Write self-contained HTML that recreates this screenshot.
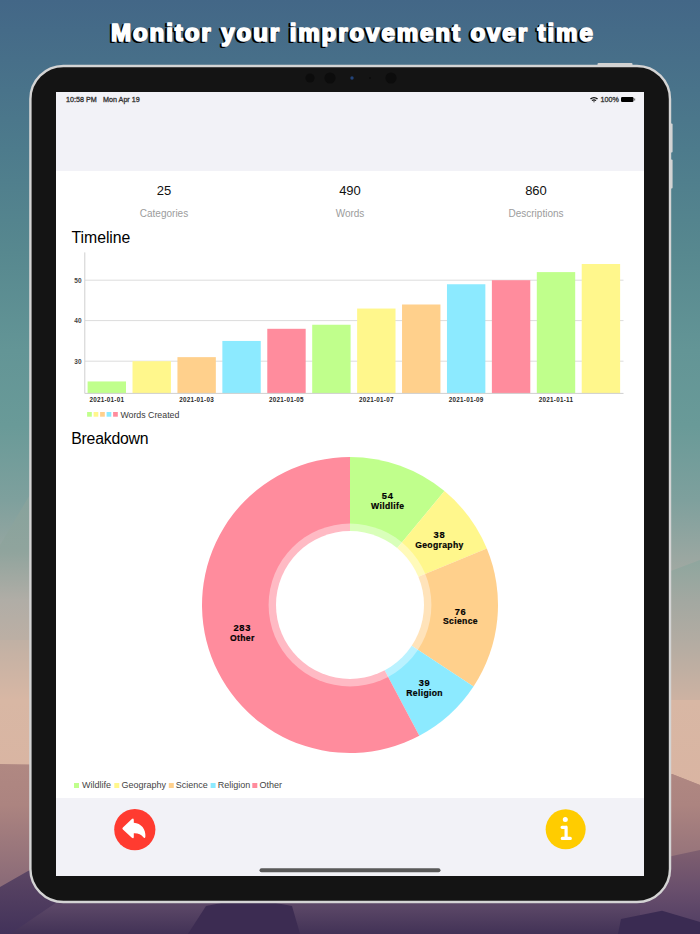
<!DOCTYPE html>
<html><head><meta charset="utf-8">
<style>
html,body{margin:0;padding:0;width:700px;height:934px;overflow:hidden;background:#4a6e8a;}
svg{position:absolute;left:0;top:0;display:block;}
text{font-family:"Liberation Sans",sans-serif;}
</style></head>
<body>
<svg width="700" height="934" viewBox="0 0 700 934">
<defs>
<linearGradient id="bg" x1="0" y1="0" x2="0" y2="934" gradientUnits="userSpaceOnUse">
<stop offset="0" stop-color="#436787"/>
<stop offset="0.16" stop-color="#4d7b8c"/>
<stop offset="0.27" stop-color="#57888f"/>
<stop offset="0.375" stop-color="#639596"/>
<stop offset="0.455" stop-color="#699a98"/>
<stop offset="0.535" stop-color="#7ea09d"/>
<stop offset="0.642" stop-color="#aeaca4"/>
<stop offset="0.70" stop-color="#c6b2a4"/>
<stop offset="0.75" stop-color="#d8b7a4"/>
<stop offset="1" stop-color="#dcb09e"/>
</linearGradient>
<linearGradient id="bg2" x1="0" y1="764" x2="0" y2="880" gradientUnits="userSpaceOnUse">
<stop offset="0" stop-color="#b08882"/>
<stop offset="0.35" stop-color="#ac8480"/>
<stop offset="1" stop-color="#8c6c78"/>
</linearGradient>
<linearGradient id="bg3" x1="0" y1="870" x2="0" y2="934" gradientUnits="userSpaceOnUse">
<stop offset="0" stop-color="#5c4664"/>
<stop offset="1" stop-color="#42325a"/>
</linearGradient>
<linearGradient id="bg4" x1="0" y1="848" x2="0" y2="934" gradientUnits="userSpaceOnUse">
<stop offset="0" stop-color="#806070"/>
<stop offset="0.5" stop-color="#684e6c"/>
<stop offset="1" stop-color="#4e3c62"/>
</linearGradient>
<linearGradient id="bgL" x1="0" y1="480" x2="0" y2="640" gradientUnits="userSpaceOnUse">
<stop offset="0" stop-color="#84a29c"/>
<stop offset="0.45" stop-color="#90a49d"/>
<stop offset="0.75" stop-color="#b0ada6"/>
<stop offset="1" stop-color="#bcafa4"/>
</linearGradient>
<linearGradient id="bgR" x1="0" y1="560" x2="0" y2="700" gradientUnits="userSpaceOnUse">
<stop offset="0" stop-color="#8ea69e"/>
<stop offset="0.3" stop-color="#a3a8a1"/>
<stop offset="0.6" stop-color="#b4aca2"/>
<stop offset="1" stop-color="#cdb2a2"/>
</linearGradient>
<linearGradient id="bg5" x1="0" y1="896" x2="0" y2="934" gradientUnits="userSpaceOnUse">
<stop offset="0" stop-color="#5e4868"/>
<stop offset="0.3" stop-color="#5a4666"/>
<stop offset="1" stop-color="#423256"/>
</linearGradient>
</defs>
<!-- background -->
<rect x="0" y="0" width="700" height="934" fill="url(#bg)"/>
<polygon points="0,764 672,774 700,785 700,934 0,934" fill="url(#bg2)"/>
<polygon points="0,887 28,871 120,840 640,870 660,934 0,934" fill="url(#bg3)"/>
<polygon points="600,880 672,856 700,850 700,934 520,934" fill="url(#bg4)"/>
<polygon points="0,545 28,498 40,480 40,640 0,640" fill="url(#bgL)"/>
<polygon points="660,575 700,560 700,700 660,700" fill="url(#bgR)"/>
<polygon points="660,782 672,774 700,785 700,800 660,800" fill="url(#bg2)"/>
<polygon points="10,934 60,900 640,900 640,934" fill="url(#bg5)"/>
<polygon points="188,934 206,906 248,898 292,906 300,934" fill="#3c2c52"/>
<polygon points="618,934 621,919 662,910.7 700,922 700,934" fill="#3a2b52"/>

<!-- title -->
<text x="109.2" y="41.7" font-size="24" font-weight="bold" letter-spacing="1.95" fill="#000" stroke="#000" stroke-width="1.8" stroke-linejoin="round">Monitor your improvement over time</text>
<text x="111" y="41" font-size="24" font-weight="bold" letter-spacing="1.95" fill="#fff" stroke="#fff" stroke-width="1.7" stroke-linejoin="round">Monitor your improvement over time</text>

<!-- iPad frame -->
<rect x="597.5" y="63" width="35" height="4" rx="1" fill="#d2d2d2"/>
<rect x="669" y="123.5" width="3.6" height="29" rx="1" fill="#d2d2d2"/>
<rect x="669" y="159.5" width="3.6" height="29" rx="1" fill="#d2d2d2"/>
<rect x="30.4" y="66" width="639.6" height="836" rx="33" ry="33" fill="#141414" stroke="#d4d4d4" stroke-width="2.4"/>
<circle cx="310" cy="78" r="4.5" fill="#0c0c0c"/>
<circle cx="330" cy="78" r="5.5" fill="#0c0c0c"/>
<circle cx="352" cy="78" r="1.7" fill="#23447a"/>
<circle cx="370" cy="78" r="0.8" fill="#050505"/>
<circle cx="391" cy="78" r="5.5" fill="#0c0c0c"/>

<!-- screen -->
<rect x="56" y="92" width="588" height="784" fill="#ffffff"/>
<rect x="56" y="92" width="588" height="79" fill="#f2f2f7"/>
<rect x="56" y="798" width="588" height="78" fill="#f2f2f7"/>

<!-- status bar -->
<text x="66" y="101.8" font-size="7.2" fill="#333" stroke="#333" stroke-width="0.3">10:58 PM</text>
<text x="103" y="101.8" font-size="7.2" fill="#333" stroke="#333" stroke-width="0.3">Mon Apr 19</text>
<text x="600.5" y="101.8" font-size="7.2" fill="#333" stroke="#333" stroke-width="0.3">100%</text>
<rect x="621" y="97" width="12.5" height="5" rx="1.2" fill="#000"/>
<rect x="634" y="98.5" width="1.2" height="2" fill="#777"/>
<path d="M590,98.6 A6,6 0 0 1 598,98.6 L597,99.6 A4.6,4.6 0 0 0 591,99.6 Z M591.6,100.2 A3.6,3.6 0 0 1 596.4,100.2 L595.4,101.1 A2.2,2.2 0 0 0 592.6,101.1 Z M593.1,101.7 A1.4,1.4 0 0 1 594.9,101.7 L594,102.6 Z" fill="#111"/>

<!-- stats -->
<g font-size="13" fill="#111" text-anchor="middle">
<text x="164" y="194.8">25</text>
<text x="350" y="194.8">490</text>
<text x="536" y="194.8">860</text>
</g>
<g font-size="10" fill="#9c9c9c" text-anchor="middle">
<text x="164" y="216.7">Categories</text>
<text x="350" y="216.7">Words</text>
<text x="536" y="216.7">Descriptions</text>
</g>

<!-- Timeline -->
<text x="71.6" y="242.6" font-size="15.8" letter-spacing="-0.05" fill="#000">Timeline</text>
<g stroke="#dcdcdc" stroke-width="1">
<line x1="85" y1="280.2" x2="623.5" y2="280.2"/>
<line x1="85" y1="320.6" x2="623.5" y2="320.6"/>
<line x1="85" y1="361.2" x2="623.5" y2="361.2"/>
</g>
<g id="bars">
<rect x="87.60" y="381.45" width="38.4" height="11.95" fill="#C0FF8C"/>
<rect x="132.52" y="361.20" width="38.4" height="32.20" fill="#FFF78C"/>
<rect x="177.44" y="357.15" width="38.4" height="36.25" fill="#FFD08C"/>
<rect x="222.36" y="340.95" width="38.4" height="52.45" fill="#8CEAFF"/>
<rect x="267.28" y="328.80" width="38.4" height="64.60" fill="#FF8C9D"/>
<rect x="312.20" y="324.75" width="38.4" height="68.65" fill="#C0FF8C"/>
<rect x="357.12" y="308.55" width="38.4" height="84.85" fill="#FFF78C"/>
<rect x="402.04" y="304.50" width="38.4" height="88.90" fill="#FFD08C"/>
<rect x="446.96" y="284.25" width="38.4" height="109.15" fill="#8CEAFF"/>
<rect x="491.88" y="280.20" width="38.4" height="113.20" fill="#FF8C9D"/>
<rect x="536.80" y="272.10" width="38.4" height="121.30" fill="#C0FF8C"/>
<rect x="581.72" y="264.00" width="38.4" height="129.40" fill="#FFF78C"/>
<text x="106.80" y="401.5" font-size="6.3" font-weight="bold" letter-spacing="0.25" fill="#2a2a2a" text-anchor="middle">2021-01-01</text>
<text x="196.64" y="401.5" font-size="6.3" font-weight="bold" letter-spacing="0.25" fill="#2a2a2a" text-anchor="middle">2021-01-03</text>
<text x="286.48" y="401.5" font-size="6.3" font-weight="bold" letter-spacing="0.25" fill="#2a2a2a" text-anchor="middle">2021-01-05</text>
<text x="376.32" y="401.5" font-size="6.3" font-weight="bold" letter-spacing="0.25" fill="#2a2a2a" text-anchor="middle">2021-01-07</text>
<text x="466.16" y="401.5" font-size="6.3" font-weight="bold" letter-spacing="0.25" fill="#2a2a2a" text-anchor="middle">2021-01-09</text>
<text x="556.00" y="401.5" font-size="6.3" font-weight="bold" letter-spacing="0.25" fill="#2a2a2a" text-anchor="middle">2021-01-11</text>
<text x="81.5" y="282.5" font-size="6.5" font-weight="bold" fill="#444" text-anchor="end">50</text>
<text x="81.5" y="322.9" font-size="6.5" font-weight="bold" fill="#444" text-anchor="end">40</text>
<text x="81.5" y="363.5" font-size="6.5" font-weight="bold" fill="#444" text-anchor="end">30</text>
<rect x="87.1" y="412" width="4.7" height="4.7" fill="#C0FF8C"/>
<rect x="93.6" y="412" width="4.7" height="4.7" fill="#FFF78C"/>
<rect x="100.1" y="412" width="4.7" height="4.7" fill="#FFD08C"/>
<rect x="106.6" y="412" width="4.7" height="4.7" fill="#8CEAFF"/>
<rect x="113.1" y="412" width="4.7" height="4.7" fill="#FF8C9D"/>
<text x="120.4" y="417.9" font-size="8.8" fill="#3a3a3a">Words Created</text>
</g>
<line x1="84.8" y1="252.4" x2="84.8" y2="393.4" stroke="#cfcfcf" stroke-width="1"/>
<line x1="84.8" y1="393.4" x2="623.5" y2="393.4" stroke="#cfcfcf" stroke-width="1"/>

<!-- Breakdown -->
<text x="71.2" y="443.6" font-size="15.8" letter-spacing="-0.2" fill="#000">Breakdown</text>
<path d="M350,605 L350.00,457.00 A148,148 0 0 1 444.48,491.09 Z" fill="#C0FF8C"/>
<path d="M350,605 L444.48,491.09 A148,148 0 0 1 486.82,548.58 Z" fill="#FFF78C"/>
<path d="M350,605 L486.82,548.58 A148,148 0 0 1 473.52,686.53 Z" fill="#FFD08C"/>
<path d="M350,605 L473.52,686.53 A148,148 0 0 1 419.30,735.78 Z" fill="#8CEAFF"/>
<path d="M350,605 L419.30,735.78 A148,148 0 1 1 350.00,457.00 Z" fill="#FF8C9D"/>
<circle cx="350" cy="605" r="81.4" fill="#fff" fill-opacity="0.4"/>
<circle cx="350" cy="605" r="74" fill="#fff"/>
<g font-size="8.6" font-weight="bold" fill="#000" stroke="#000" stroke-width="0.2" letter-spacing="0.35" text-anchor="middle">
<text font-size="9.3" letter-spacing="0.7" x="387.7" y="499.2">54</text><text x="387.7" y="509.1">Wildlife</text>
<text font-size="9.3" letter-spacing="0.7" x="439.4" y="538">38</text><text x="439.4" y="548">Geography</text>
<text font-size="9.3" letter-spacing="0.7" x="460.5" y="614.5">76</text><text x="460.5" y="624.4">Science</text>
<text font-size="9.3" letter-spacing="0.7" x="424.6" y="686">39</text><text x="424.6" y="696">Religion</text>
<text font-size="9.3" letter-spacing="0.7" x="242.3" y="630.6">283</text><text x="242.3" y="640.5">Other</text>
</g>

<!-- legend -->
<g font-size="9" fill="#444">
<rect x="74" y="783" width="5" height="5" fill="#C0FF8C"/><text x="82" y="788.1">Wildlife</text>
<rect x="114.3" y="783" width="5" height="5" fill="#FFF78C"/><text x="121.5" y="788.1">Geography</text>
<rect x="168.8" y="783" width="5" height="5" fill="#FFD08C"/><text x="175.7" y="788.1">Science</text>
<rect x="210.6" y="783" width="5" height="5" fill="#8CEAFF"/><text x="217.8" y="788.1">Religion</text>
<rect x="252.3" y="783" width="5" height="5" fill="#FF8C9D"/><text x="259.5" y="788.1">Other</text>
</g>

<!-- toolbar buttons -->
<circle cx="134.8" cy="829.6" r="20.6" fill="#FF3B30"/>
<path d="M122.9,827.4 L131.6,819.3 Q133.8,817.4 133.8,820.3 L133.8,822.8 C141.2,823.2 146,829.4 145.4,836.6 Q145.2,839 143.6,837.4 C141,834.2 138,833 133.8,833.2 L133.8,836.7 Q133.8,839.5 131.6,837.6 L122.9,829.6 Q121.8,828.5 122.9,827.4 Z" fill="#fff"/>
<circle cx="565.65" cy="829.35" r="20" fill="#FFCC00"/>
<circle cx="565.3" cy="819.4" r="2.5" fill="#fff"/>
<path d="M566.1,827.2 L566.1,838.4 M562.1,827.3 L566.1,827.3 M562.3,838.4 L570.3,838.4" stroke="#fff" stroke-width="3.2" stroke-linecap="round" fill="none"/>

<!-- home indicator -->
<rect x="259.5" y="868.3" width="181" height="4" rx="2" fill="#5a5a5a"/>
</svg>
</body></html>
